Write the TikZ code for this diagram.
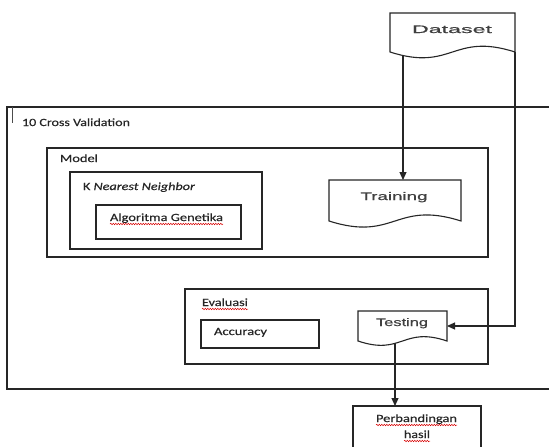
\documentclass[tikz,border=0pt]{standalone}
\usepackage{fontspec}
\setmainfont{Carlito}[FakeBold=0.35]
\newfontfamily\calf{Carlito}[FakeBold=0.35]
\newfontfamily\arialf{Liberation Sans}[FakeBold=0.6]
\usetikzlibrary{arrows.meta,calc,decorations.pathmorphing}
\newcommand{\hw}[2]{\resizebox{#1}{\height}{#2}}
\newcommand{\docpath}[2]{\draw[ln, fill=white] (#1.north west) -- (#1.north east) -- (#1.south east) .. controls ($(#1.south)+(0,-#2)$) and ($(#1.south)+(0,#2)$) .. (#1.south west) -- cycle;}
\begin{document}
\begin{tikzpicture}[x=1pt,y=-1pt,
  ln/.style={draw=black!85, line width=1.1pt},
  box/.style={ln, rectangle, inner sep=0pt, outer sep=0pt},
  docarea/.style={rectangle, inner sep=0pt, outer sep=0pt},
  lab/.style={inner sep=0pt, outer sep=0pt, text=black!85, font=\calf\fontsize{11}{13}\selectfont},
  dlab/.style={inner sep=0pt, outer sep=0pt, text=black!75, font=\arialf\fontsize{11}{13}\selectfont},
  arr/.style={ln, -{Triangle[length=8pt,width=7pt]}},
  squig/.style={draw=red!85!black, line width=0.5pt, decorate, decoration={snake, amplitude=0.7pt, segment length=2.5pt}}
]
\useasboundingbox (0,0) rectangle (549,447);
\fill[white] (0,0) rectangle (549,447);

% outer 10 cross validation frame (open on the right)
\coordinate (oTL) at (7,107);
\coordinate (oBL) at (7,389);
\draw[ln] (549,107) -- (oTL) -- (oBL) -- (549,389);
\draw[line width=0.6pt, black!70] (12,107) -- (12,123);

% boxes
\node[box, minimum width=441pt, minimum height=109pt] (model) at (267.5,202.5) {};
\node[box, minimum width=192pt, minimum height=77pt] (knn) at (166,210.5) {};
\node[box, minimum width=145pt, minimum height=34pt] (ga) at (168.5,222) {};
\node[box, minimum width=303pt, minimum height=75pt] (eval) at (336.5,326.5) {};
\node[box, minimum width=118pt, minimum height=28pt] (acc) at (260,334) {};

% document shapes
\node[docarea, minimum width=125pt, minimum height=39pt] (dataset) at (452.5,32.5) {};
\node[docarea, minimum width=132pt, minimum height=41pt] (training) at (395,200.5) {};
\node[docarea, minimum width=89pt, minimum height=30pt] (testing) at (402.5,326) {};

% result box (bottom cut off)
\coordinate (bot) at (0,447);
\node[docarea, minimum width=128pt, minimum height=41pt, anchor=north] (perb) at (417,406) {};
\draw[ln] (perb.north west |- bot) -- (perb.north west) -- (perb.north east) -- (perb.north east |- bot);

% connectors
\coordinate (dsout) at (403,55.5);
\coordinate (tsout) at (395,343.4);
\draw[arr] (dsout) -- (dsout |- training.north);
\draw[arr] (dataset.south east) |- (testing.east);
\draw[arr] (tsout) -- (tsout |- perb.north);

\docpath{dataset}{20}
\docpath{training}{21}
\docpath{testing}{15}

% labels
\node[lab, anchor=base west] (cvlab) at (22,126) {\hw{108pt}{10 Cross Validation}};
\node[lab, anchor=base west] (mlab) at (60,162) {\hw{38pt}{Model}};
\node[lab, anchor=base west] (klab) at (83,190) {\hw{112pt}{K \textit{Nearest Neighbor}}};
\node[lab, anchor=base west] (galab) at (110,221) {\hw{113pt}{Algoritma Genetika}};
\node[lab, anchor=base west] (evlab) at (202,306) {\hw{46pt}{Evaluasi}};
\node[lab, anchor=base west] (aclab) at (214,335) {\hw{53pt}{Accuracy}};
\node[lab, anchor=base] (pblab) at (416.5,422) {\hw{81pt}{Perbandingan}};
\node[lab, anchor=base] (hslab) at (417,438) {\hw{26pt}{hasil}};
\node[dlab, anchor=base] (dslab) at (452,33) {\hw{80pt}{Dataset}};
\node[dlab, anchor=base] (trlab) at (394,200) {\hw{67pt}{Training}};
\node[dlab, anchor=base] (tslab) at (402,326) {\hw{52pt}{Testing}};

% spell-check squiggles
\draw[squig] ($(galab.base west)+(0,3)$) -- ($(galab.base east)+(0,3)$);
\draw[squig] ($(evlab.base west)+(0,3)$) -- ($(evlab.base east)+(0,3)$);
\draw[squig] ($(pblab.base west)+(0,3)$) -- ($(pblab.base east)+(0,3)$);
\draw[squig] ($(hslab.base west)+(0,3)$) -- ($(hslab.base east)+(0,3)$);
\end{tikzpicture}
\end{document}
